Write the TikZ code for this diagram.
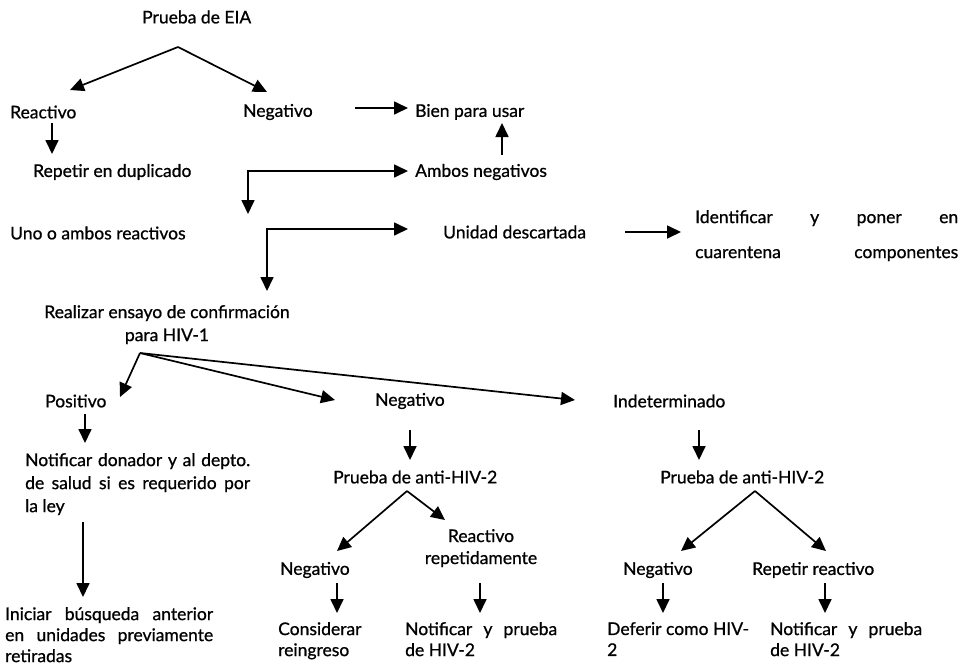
\documentclass[tikz,border=0pt]{standalone}
\usepackage{fontspec}
\setmainfont{Lato}[FakeBold=0.8]
\usetikzlibrary{arrows.meta}
\begin{document}
\begin{tikzpicture}[x=1pt,y=-1pt,
  lbl/.style={anchor=west,inner sep=0pt,font=\fontsize{17.5}{22}\selectfont},
  mlbl/.style={anchor=north west,inner sep=0pt,align=left,font=\fontsize{17.5}{#1}\selectfont},
  clbl/.style={anchor=north,inner sep=0pt,align=center,font=\fontsize{17.5}{#1}\selectfont},
  arr/.style={-{Triangle[length=14pt,width=13pt]},line width=1.7pt},
  arrb/.style={{Triangle[length=14pt,width=13pt]}-{Triangle[length=14pt,width=13pt]},line width=1.7pt},
]
\useasboundingbox (0,0) rectangle (961,665);
% texts
\node[lbl] (eia) at (142,17) {Prueba de EIA};
\node[lbl] (reac) at (10,112) {Reactivo};
\node[lbl] (neg) at (243,112) {Negativo};
\node[lbl] (bien) at (415,112) {Bien para usar};
\node[lbl] (rep) at (33,172) {Repetir en duplicado};
\node[lbl] (amb) at (415,172) {Ambos negativos};
\node[lbl] (uno) at (10,233) {Uno o ambos reactivos};
\node[lbl] (desc) at (443,232) {Unidad descartada};
\node[mlbl=35] (ident) at (695,210) {\makebox[263pt][s]{Identificar\hfill y\hfill poner\hfill en}\\\makebox[263pt][s]{cuarentena\hfill componentes}};
\node[clbl=23] (real) at (167,305) {Realizar ensayo de confirmación\\para HIV-1};
\node[lbl] (pos) at (45,401) {Positivo};
\node[lbl] (neg2) at (375,401) {Negativo};
\node[lbl] (ind) at (613,401) {Indeterminado};
\node[mlbl=23] (notif) at (25,453) {\makebox[225pt][s]{Notificar\hfill donador\hfill y\hfill al\hfill depto.}\\\makebox[225pt][s]{de\hfill salud\hfill si\hfill es\hfill requerido\hfill por}\\la ley};
\node[mlbl=21] (inic) at (5,607) {\makebox[208pt][s]{Iniciar\hfill búsqueda\hfill anterior}\\\makebox[208pt][s]{en\hfill unidades\hfill previamente}\\retiradas};
\node[lbl] (pa) at (333,477) {Prueba de anti-HIV-2};
\node[lbl] (pb) at (660,477) {Prueba de anti-HIV-2};
\node[lbl] (nega) at (280,570) {Negativo};
\node[clbl=22] (reacrep) at (481,529) {Reactivo\\repetidamente};
\node[lbl] (negb) at (623,570) {Negativo};
\node[lbl] (repr) at (752,570) {Repetir reactivo};
\node[mlbl=21] (cons) at (278,622) {Considerar\\reingreso};
\node[mlbl=21] (nota) at (405,622) {\makebox[152pt][s]{Notificar\hfill y\hfill prueba}\\de HIV-2};
\node[mlbl=21] (defe) at (607,622) {Deferir como HIV-\\2};
\node[mlbl=21] (notb) at (770,622) {\makebox[152pt][s]{Notificar\hfill y\hfill prueba}\\de HIV-2};
% coordinates
\coordinate (ap1) at (178,47);
\coordinate (t1) at (70,90);
\coordinate (t2) at (267,92);
\coordinate (n1s) at (355,108);
\coordinate (n1e) at (408,108);
\coordinate (b1s) at (502,155);
\coordinate (b1e) at (502,123);
\coordinate (r1s) at (52,123);
\coordinate (r1e) at (52,154);
\coordinate (e1a) at (408,171);
\coordinate (e1b) at (248,214);
\coordinate (e2a) at (408,229);
\coordinate (e2b) at (267,291);
\coordinate (d1s) at (625,232);
\coordinate (d1e) at (681,232);
\coordinate (ap2) at (140,353);
\coordinate (t3) at (120,397);
\coordinate (t4) at (335,400);
\coordinate (t5) at (575,400);
\coordinate (p1s) at (85,414);
\coordinate (p1e) at (85,443);
\coordinate (p2s) at (83,522);
\coordinate (p2e) at (83,597);
\coordinate (g1s) at (410,430);
\coordinate (g1e) at (410,460);
\coordinate (i1s) at (699,430);
\coordinate (i1e) at (699,460);
\coordinate (ap3) at (407,491);
\coordinate (t6) at (337,551);
\coordinate (t7) at (445,520);
\coordinate (ap4) at (755,491);
\coordinate (t8) at (681,551);
\coordinate (t9) at (826,551);
\coordinate (q1s) at (337,583);
\coordinate (q1e) at (337,613);
\coordinate (q2s) at (480,583);
\coordinate (q2e) at (480,613);
\coordinate (q3s) at (663,583);
\coordinate (q3e) at (663,613);
\coordinate (q4s) at (825,583);
\coordinate (q4e) at (825,613);
% connectors
\draw[arr] (ap1) -- (t1);
\draw[arr] (ap1) -- (t2);
\draw[arr] (n1s) -- (n1e);
\draw[arr] (b1s) -- (b1e);
\draw[arr] (r1s) -- (r1e);
\draw[arrb] (e1b) |- (e1a);
\draw[arrb] (e2b) |- (e2a);
\draw[arr] (d1s) -- (d1e);
\draw[arr] (ap2) -- (t3);
\draw[arr] (ap2) -- (t4);
\draw[arr] (ap2) -- (t5);
\draw[arr] (p1s) -- (p1e);
\draw[arr] (p2s) -- (p2e);
\draw[arr] (g1s) -- (g1e);
\draw[arr] (i1s) -- (i1e);
\draw[arr] (ap3) -- (t6);
\draw[arr] (ap3) -- (t7);
\draw[arr] (ap4) -- (t8);
\draw[arr] (ap4) -- (t9);
\draw[arr] (q1s) -- (q1e);
\draw[arr] (q2s) -- (q2e);
\draw[arr] (q3s) -- (q3e);
\draw[arr] (q4s) -- (q4e);
\end{tikzpicture}
\end{document}
